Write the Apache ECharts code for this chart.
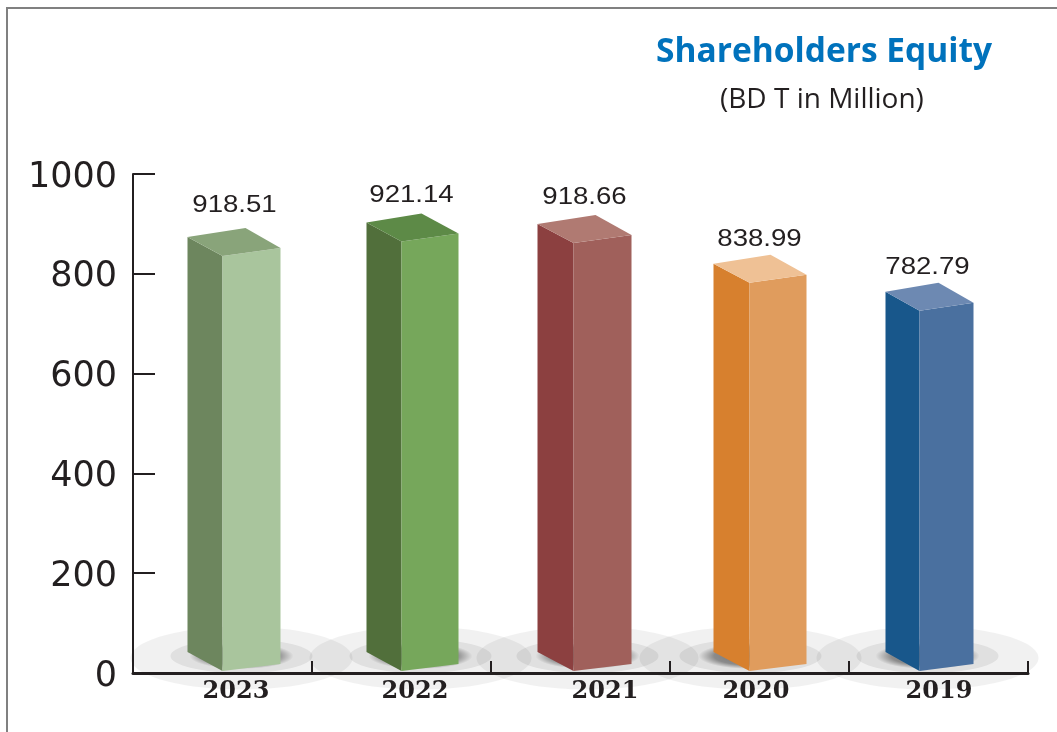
<!DOCTYPE html>
<html>
<head>
<meta charset="utf-8">
<style>html,body{margin:0;padding:0;background:#fff}#c{width:1057px;height:732px}</style>
<script src="https://cdn.jsdelivr.net/npm/echarts@6/dist/echarts.min.js"></script>
</head>
<body>
<div id="c"></div>
<script>
// ---- data ----
const categories = ['2023', '2022', '2021', '2020', '2019'];
const printedValues = [918.51, 921.14, 918.66, 838.99, 782.79];   // the numbers printed above the bars
const drawnHeights = [892, 921, 918, 838, 782];                   // height of the bars as drawn (2023 is drawn lower than its label)
const yTicks = { min: 0, max: 1000, interval: 200 };

// ---- styling and placement relative to each category band ----
const faceLeft  = ['#6d865e', '#516f3b', '#8c4040', '#d7802e', '#18578b'];
const faceRight = ['#a9c59d', '#76a75b', '#a0605b', '#e09c5d', '#4a709f'];
const faceTop   = ['#89a47a', '#5d8a47', '#b07a72', '#efc195', '#6d89b2'];
const frontShift = [0, 0, -7, -10, -19];
const leftWidth  = [35, 35, 36, 36, 34];
const rightWidth = [58, 57, 58, 57, 54];
const backShift  = [23, 20, 22, 21, 19];
const labelShift = [12, 10, 11, 10, 8];
const labelRise  = [23, 19, 18, 16, 16];
const haloShift  = [19, 19, 14, 1, 8];
const catPad = [[0,0,0,27],[0,0,0,27],[0,0,0,49],[0,7,0,0],[0,0,0,1]];

const chart = echarts.init(document.getElementById('c'), null, { renderer: 'canvas' });

function renderHalo(params, api) {
  const i = api.value(0);
  const c = api.coord([i, 0]);
  const cx = c[0] + frontShift[i] + haloShift[i];
  const base = c[1];
  return {
    type: 'group',
    children: [
      { type: 'ellipse', shape: { cx: cx, cy: base - 15, rx: 111, ry: 31.5 },
        style: { fill: 'rgba(0,0,0,0.055)' } },
      { type: 'ellipse', shape: { cx: cx, cy: base - 17, rx: 71, ry: 17 },
        style: { fill: 'rgba(0,0,0,0.07)' } },
      { type: 'circle', x: cx, y: base - 17, scaleY: 13 / 52,
        shape: { cx: 0, cy: 0, r: 52 },
        style: { fill: new echarts.graphic.RadialGradient(0.5, 0.5, 0.5, [
          { offset: 0, color: 'rgba(0,0,0,0.5)' },
          { offset: 0.7, color: 'rgba(0,0,0,0.38)' },
          { offset: 1, color: 'rgba(0,0,0,0.0)' }
        ]) } }
    ]
  };
}

function renderBar(params, api) {
  const i = api.value(0);
  const top = api.coord([i, api.value(1)]);
  const zero = api.coord([i, 0]);
  const f = top[0] + frontShift[i];
  const l = f - leftWidth[i];
  const r = f + rightWidth[i];
  const b = f + backShift[i];
  const T = top[1];
  const B = zero[1];
  return {
    type: 'group',
    children: [
      { type: 'polygon', shape: { points: [[l, T + 9], [f, T + 28], [f, B - 2], [l, B - 21]] },
        style: { fill: faceLeft[i] } },
      { type: 'polygon', shape: { points: [[f, T + 28], [r, T + 20], [r, B - 9], [f, B - 2]] },
        style: { fill: faceRight[i] } },
      { type: 'polygon', shape: { points: [[l, T + 9], [b, T], [r, T + 20], [f, T + 28]] },
        style: { fill: faceTop[i] } },
      { type: 'text', x: f + labelShift[i], y: T - labelRise[i] + 1, scaleX: 1.2,
        style: { x: 0, y: 0, text: printedValues[i].toFixed(2), align: 'center', verticalAlign: 'middle',
          fontFamily: 'Liberation Sans', fontSize: 23, fill: '#231f20' } }
    ]
  };
}

const seriesData = categories.map((c, i) => [i, drawnHeights[i]]);

chart.setOption({
  animation: false,
  backgroundColor: '#ffffff',
  title: [
    { text: 'Shareholders Equity', left: 651, top: 30,
      textStyle: { fontFamily: 'Open Sans', fontWeight: 'bold', fontSize: 33.5, color: '#0072bc' } },
    { text: '(BD T in Million)', left: 715, top: 81,
      textStyle: { fontFamily: 'Open Sans', fontWeight: 'normal', fontSize: 28, color: '#231f20' } }
  ],
  grid: { left: 133, right: 29, top: 174, bottom: 59, containLabel: false },
  xAxis: {
    type: 'category', data: categories, z: 3,
    axisLine: { lineStyle: { color: '#231f20', width: 3 } },
    axisTick: { show: true, inside: true, length: 12, alignWithLabel: false, lineStyle: { color: '#231f20', width: 2 } },
    axisLabel: {
      margin: 7,
      interval: 0,
      formatter: (v, i) => '{c' + i + '|' + v + '}',
      rich: Object.fromEntries(categories.map((c, i) => ['c' + i, {
        fontFamily: 'DejaVu Serif', fontWeight: 'bold', fontSize: 24, color: '#231f20', padding: catPad[i]
      }]))
    }
  },
  yAxis: {
    type: 'value', min: yTicks.min, max: yTicks.max, interval: yTicks.interval, z: 3,
    splitLine: { show: false },
    axisLine: { show: true, lineStyle: { color: '#231f20', width: 2 } },
    axisTick: { show: true, inside: true, length: 22, lineStyle: { color: '#231f20', width: 2 } },
    axisLabel: {
      margin: 16,
      formatter: (v) => '{n|' + v + '}',
      rich: { n: { fontFamily: 'DejaVu Sans', fontSize: 35, color: '#231f20', padding: [7, 0, 0, 0] } }
    }
  },
  series: [
    { type: 'custom', z: 1, clip: false, silent: true, renderItem: renderHalo, encode: { x: 0, y: 1 }, data: seriesData },
    { type: 'custom', z: 4, clip: false, silent: true, renderItem: renderBar, encode: { x: 0, y: 1 }, data: seriesData }
  ],
  graphic: [
    { type: 'polyline', silent: true, shape: { points: [[7, 732], [7, 8], [1057, 8]] },
      style: { fill: 'none', stroke: '#808080', lineWidth: 2 } }
  ]
});
</script>
</body>
</html>
